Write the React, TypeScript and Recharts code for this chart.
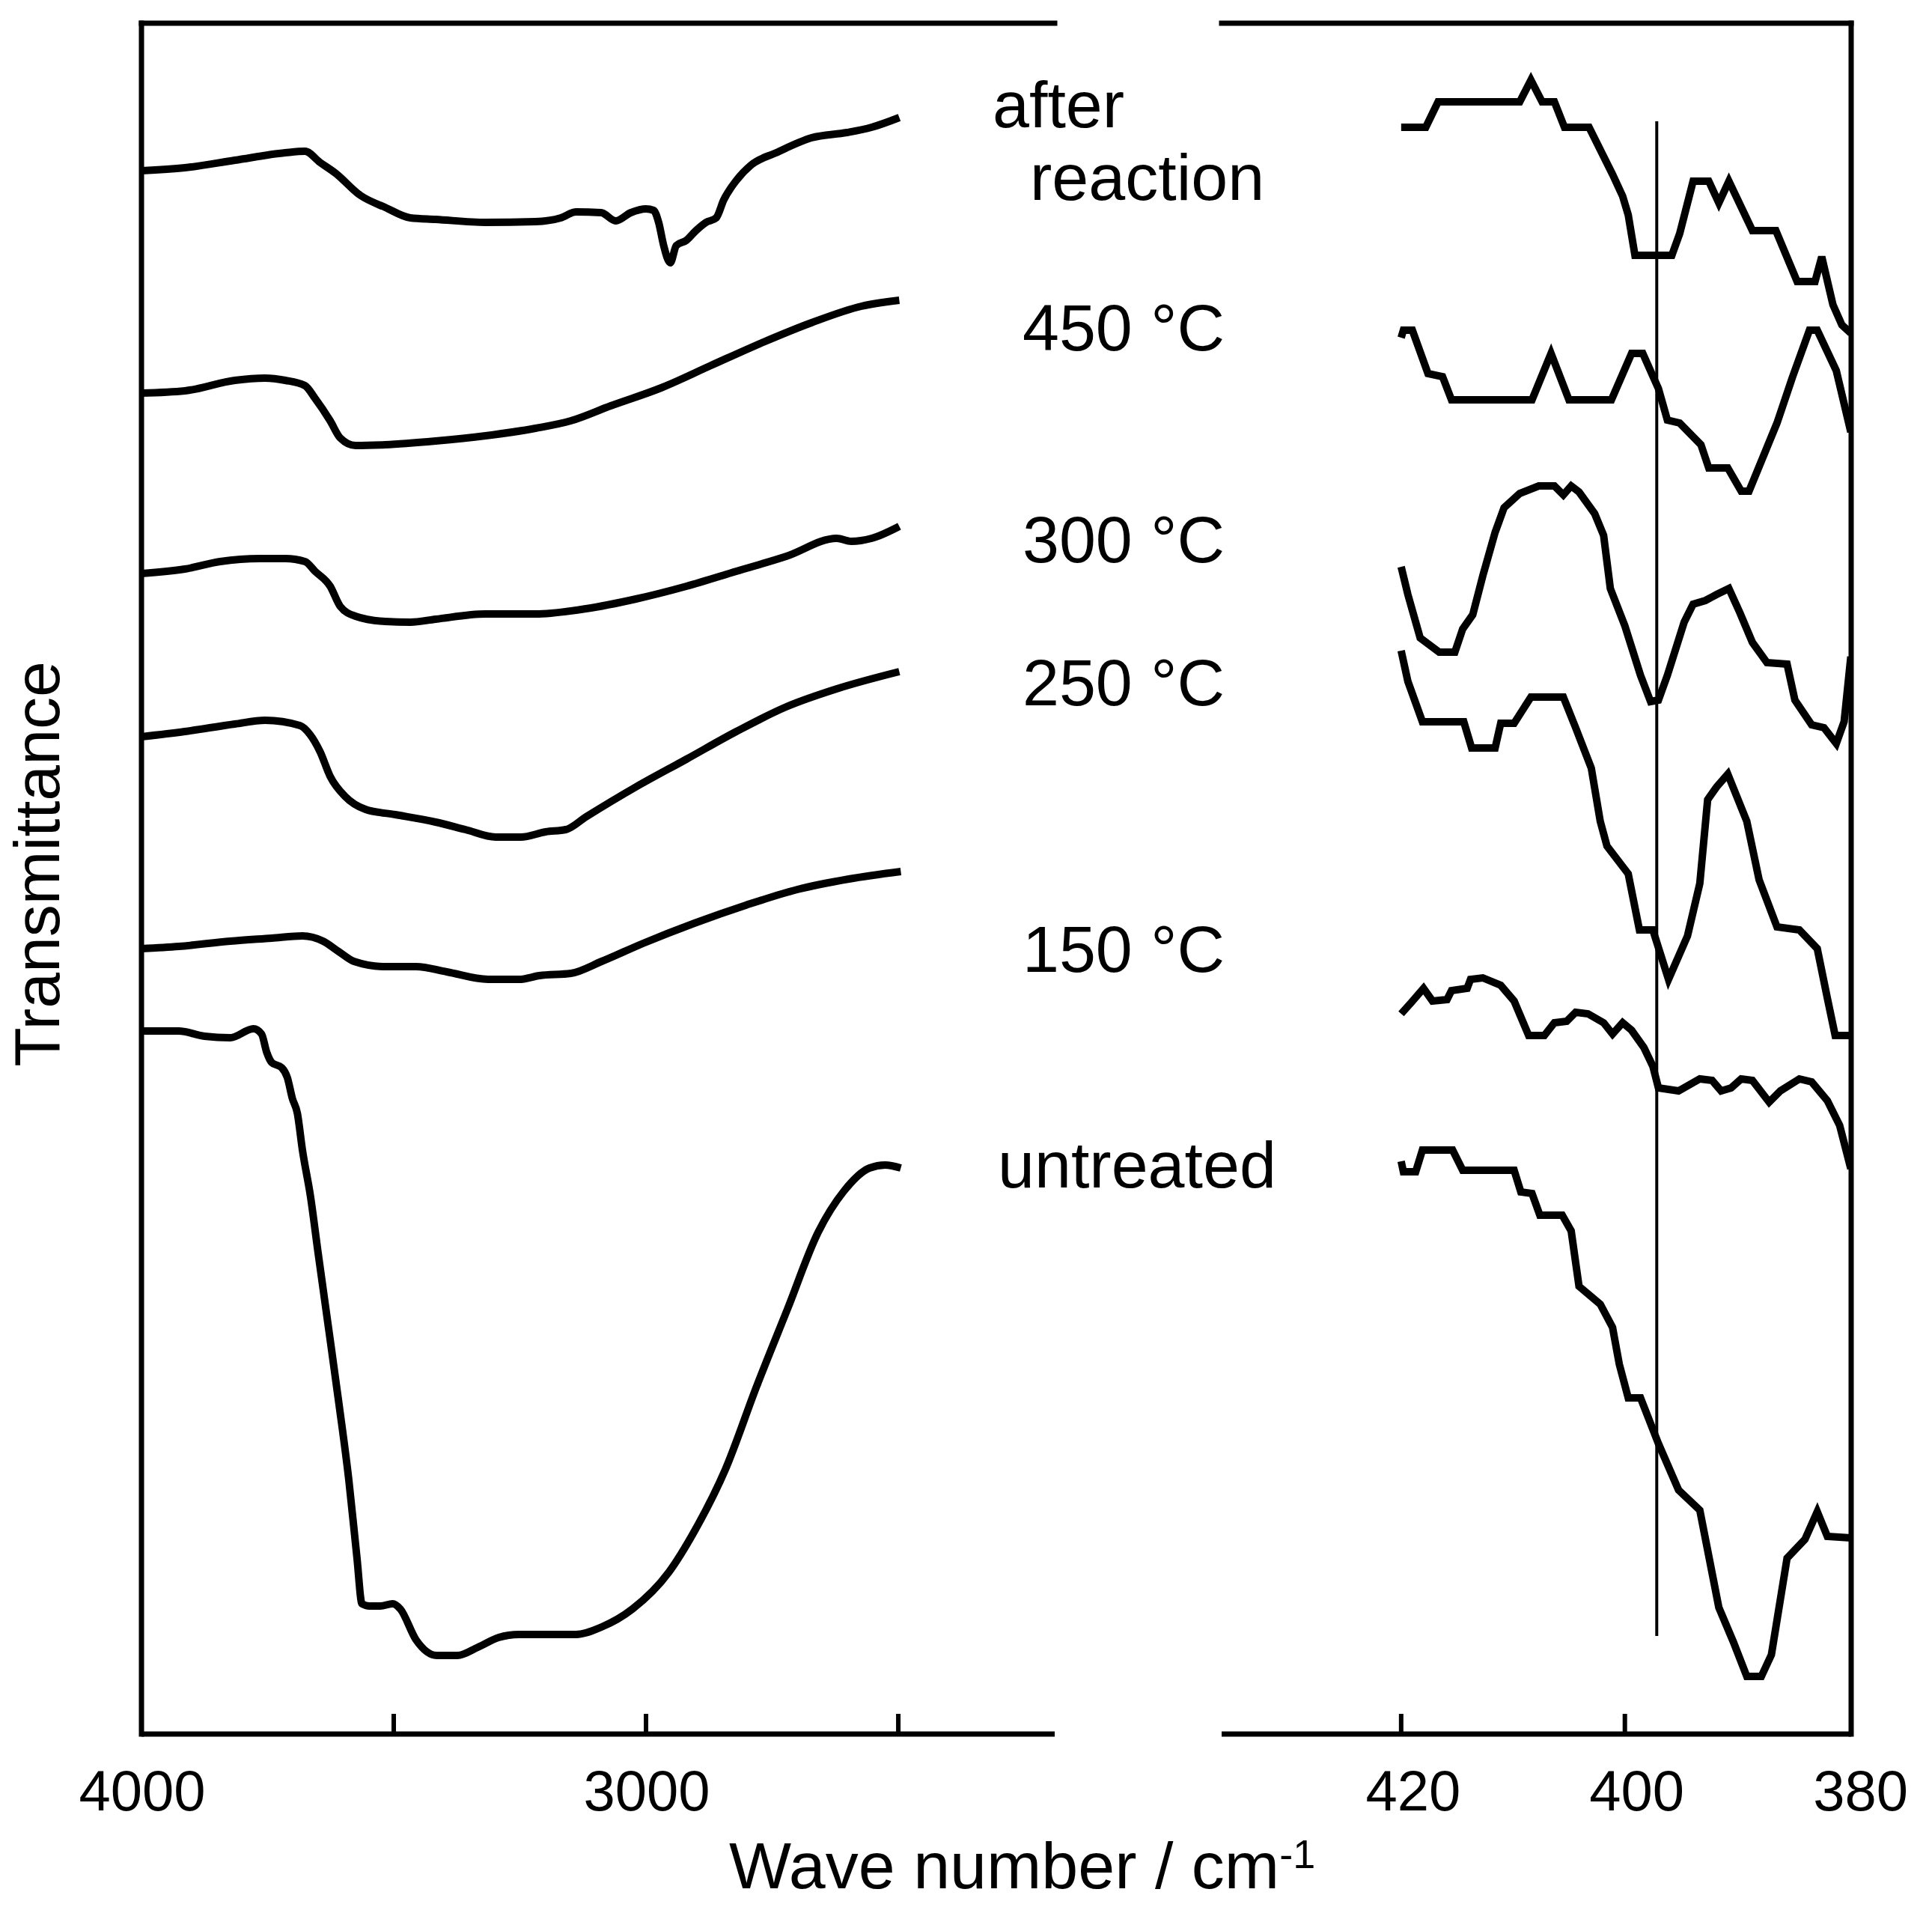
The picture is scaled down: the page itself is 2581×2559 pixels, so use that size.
import React from 'react';
import { LineChart, Line, XAxis, YAxis, ReferenceLine } from 'recharts';

const FONT = '"Liberation Sans", Arial, Helvetica, sans-serif';

// ---------- data: [wavenumber (cm-1), transmittance (a.u., offset)] ----------
const irAfterReaction: [number, number][] = [
  [4000, 208.8], [3914, 209.2], [3815, 210.2], [3715, 211.2], [3676, 211.4], [3646, 209.9], [3616, 208.5],
  [3566, 205.5], [3517, 203.9], [3467, 202.5], [3417, 202.3], [3318, 201.9], [3219, 202.0], [3169, 202.5],
  [3139, 203.3], [3089, 203.2], [3060, 202.1], [3030, 203.2], [3000, 203.7], [2985, 203.5], [2975, 201.9],
  [2965, 198.8], [2952, 196.5], [2940, 198.8], [2920, 199.5], [2901, 200.8], [2881, 201.9], [2861, 202.5],
  [2846, 204.9], [2821, 207.5], [2791, 209.6], [2742, 211.2], [2672, 213.2], [2602, 213.9], [2553, 214.6],
  [2498, 215.9],
];
const ir450: [number, number][] = [
  [4000, 179.1], [3914, 179.4], [3815, 180.8], [3755, 181.1], [3715, 180.8], [3676, 180.1], [3656, 178.4],
  [3626, 175.4], [3606, 173.1], [3576, 172.1], [3517, 172.2], [3417, 172.7], [3318, 173.4], [3219, 174.4],
  [3149, 175.4], [3070, 177.4], [2970, 179.8], [2871, 182.8], [2771, 185.8], [2672, 188.5], [2573, 190.7],
  [2498, 191.5],
];
const ir300: [number, number][] = [
  [4000, 155.0], [3914, 155.6], [3844, 156.6], [3765, 157.0], [3715, 157.0], [3676, 156.6], [3656, 155.3],
  [3626, 153.3], [3606, 150.6], [3576, 149.3], [3517, 148.6], [3467, 148.5], [3417, 148.9], [3318, 149.6],
  [3219, 149.6], [3119, 150.3], [3020, 151.6], [2920, 153.3], [2821, 155.3], [2722, 157.3], [2622, 159.7],
  [2593, 159.3], [2553, 159.7], [2498, 161.3],
];
const ir250: [number, number][] = [
  [4000, 133.2], [3914, 133.9], [3815, 134.9], [3755, 135.4], [3686, 134.7], [3666, 133.5], [3646, 131.2],
  [3626, 127.9], [3596, 125.2], [3556, 123.5], [3497, 122.8], [3417, 121.8], [3358, 120.8], [3298, 119.8],
  [3248, 119.8], [3199, 120.5], [3159, 120.8], [3119, 122.5], [3020, 126.5], [2920, 130.2], [2821, 133.9],
  [2722, 137.2], [2622, 139.6], [2498, 141.9],
];
const ir150: [number, number][] = [
  [4000, 104.9], [3926, 105.2], [3824, 105.9], [3742, 106.3], [3681, 106.6], [3640, 105.9], [3609, 104.5],
  [3579, 103.2], [3517, 102.5], [3456, 102.5], [3395, 101.8], [3313, 100.8], [3252, 100.8], [3211, 101.3],
  [3149, 101.6], [3088, 103.2], [3006, 105.6], [2904, 108.3], [2802, 110.7], [2700, 112.8], [2598, 114.2],
  [2495, 115.2],
];
const irUntreated: [number, number][] = [
  [4000, 93.9], [3926, 93.9], [3875, 93.2], [3824, 93.0], [3778, 94.2], [3762, 93.5], [3752, 91.1],
  [3742, 89.7], [3722, 89.0], [3711, 87.7], [3701, 84.9], [3691, 82.9], [3681, 78.0], [3665, 71.8],
  [3650, 64.3], [3630, 54.6], [3609, 44.3], [3589, 33.9], [3573, 23.6], [3563, 17.4], [3548, 17.1],
  [3527, 17.1], [3502, 17.4], [3487, 16.7], [3456, 12.6], [3415, 10.5], [3374, 10.5], [3333, 11.6],
  [3292, 12.9], [3252, 13.3], [3139, 13.3], [3088, 14.3], [3027, 16.7], [2955, 21.6], [2904, 27.1],
  [2843, 35.3], [2781, 46.4], [2720, 56.7], [2659, 67.0], [2608, 72.5], [2557, 75.6], [2526, 76.0],
  [2495, 75.6],
];

const farAfterReaction: [number, number][] = [
  [420, 214.6], [417.8, 214.6], [416.7, 218.0], [409.4, 218.0], [408.4, 220.9], [407.4, 218.0], [406.3, 218.0],
  [405.4, 214.6], [403.2, 214.6], [401.9, 210.7], [401.1, 208.3], [400.2, 205.4], [399.7, 202.9], [399.1, 197.5],
  [395.8, 197.5], [395.1, 200.4], [393.9, 207.4], [392.5, 207.4], [391.6, 204.5], [390.7, 207.4], [388.6, 200.8],
  [386.5, 200.8], [384.6, 194.0], [383.0, 194.0], [382.4, 197.3], [381.4, 190.9], [380.6, 188.2], [379.8, 187.1],
];
const far450: [number, number][] = [
  [420, 186.5], [419.8, 187.5], [419.0, 187.5], [417.6, 181.7], [416.3, 181.3], [415.5, 178.2], [408.3, 178.2],
  [406.6, 184.4], [405.0, 178.2], [401.2, 178.2], [399.4, 184.4], [398.4, 184.4], [397.0, 179.7], [396.2, 175.5],
  [395.1, 175.1], [393.2, 172.2], [392.5, 169.1], [390.8, 169.1], [389.6, 166.0], [388.9, 166.0], [386.4, 175.1],
  [385.0, 181.3], [383.5, 187.5], [382.8, 187.5], [381.1, 182.1], [379.8, 173.9],
];
const far300: [number, number][] = [
  [420, 155.9], [419.4, 152.2], [418.3, 146.4], [416.6, 144.5], [415.2, 144.5], [414.5, 147.6], [413.6, 149.5],
  [412.7, 154.7], [411.6, 160.5], [410.8, 163.8], [409.4, 165.7], [407.7, 166.7], [406.3, 166.7], [405.5, 165.5],
  [404.8, 166.7], [404.1, 165.9], [402.7, 163.0], [401.9, 160.1], [401.3, 153.0], [400.0, 148.0], [398.6, 141.4],
  [397.7, 137.9], [397.0, 138.1], [396.2, 141.4], [394.7, 148.5], [393.9, 150.9], [392.8, 151.4], [391.8, 152.2],
  [390.7, 153.0], [389.7, 149.7], [388.6, 145.8], [387.3, 143.1], [385.5, 142.9], [384.8, 138.1], [383.3, 134.8],
  [382.2, 134.4], [381.1, 132.3], [380.4, 135.2], [379.8, 143.9],
];
const far250: [number, number][] = [
  [420, 144.7], [419.4, 140.6], [418.1, 135.2], [414.4, 135.2], [413.7, 131.7], [411.6, 131.7], [411.1, 135.0],
  [409.9, 135.0], [408.4, 138.5], [405.5, 138.5], [404.4, 134.4], [403.0, 129.0], [402.2, 121.9], [401.6, 118.6],
  [399.7, 114.9], [398.7, 107.4], [397.5, 107.4], [396.1, 100.8], [394.4, 106.6], [393.3, 113.6], [392.6, 124.8],
  [391.8, 126.5], [390.8, 128.2], [389.1, 121.9], [388.0, 114.1], [386.4, 107.8], [384.4, 107.4], [382.8, 104.9],
  [381.9, 98.3], [381.2, 93.3], [379.8, 93.3],
];
const far150: [number, number][] = [
  [420, 96.2], [419.1, 97.7], [418.0, 99.6], [417.2, 97.9], [415.9, 98.1], [415.5, 99.3], [414.1, 99.6],
  [413.8, 100.8], [412.7, 101.0], [411.1, 100.0], [409.9, 97.9], [408.6, 93.3], [407.2, 93.3], [406.3, 95.0],
  [405.2, 95.2], [404.4, 96.4], [403.3, 96.2], [401.9, 95.0], [401.1, 93.5], [400.2, 95.0], [399.4, 94.0],
  [398.3, 91.7], [397.5, 89.2], [397.0, 86.3], [395.2, 85.9], [393.3, 87.5], [392.2, 87.3], [391.4, 85.9],
  [390.5, 86.3], [389.6, 87.5], [388.6, 87.3], [387.1, 84.4], [386.1, 85.9], [384.4, 87.5], [383.3, 87.1],
  [381.9, 84.6], [380.8, 81.3], [379.8, 75.5],
];
const farUntreated: [number, number][] = [
  [420, 76.5], [419.8, 75.1], [418.7, 75.1], [418.1, 78.0], [415.4, 78.0], [414.5, 75.3], [409.9, 75.3],
  [409.3, 72.4], [408.3, 72.2], [407.6, 69.3], [405.6, 69.3], [404.8, 67.2], [404.1, 59.8], [402.2, 57.4],
  [401.1, 54.3], [400.5, 49.4], [399.7, 44.9], [398.6, 44.9], [397.0, 38.8], [395.2, 32.6], [393.3, 29.9],
  [391.6, 16.9], [390.3, 12.3], [389.1, 7.7], [387.8, 7.7], [386.9, 10.6], [385.5, 23.5], [383.9, 26.0],
  [382.8, 29.7], [381.9, 26.4], [379.8, 26.2],
];

const seriesLabels = ['after reaction', '450 °C', '300 °C', '250 °C', '150 °C', 'untreated'];
const irSeries = [irAfterReaction, ir450, ir300, ir250, ir150, irUntreated];
const farSeries = [farAfterReaction, far450, far300, far250, far150, farUntreated];

const irTicks = [4000, 3500, 3000, 2500];
const irTickLabels = [4000, 3000];
const farTicks = [420, 400, 380];
const farTickLabels = [420, 400, 380];

const irDomain: [number, number] = [2190, 4000];
const farDomain: [number, number] = [379.77, 436.05];
const yDomain: [number, number] = [0, 228.5];
const markerWavenumber = 397.15;
const markerRange: [number, number] = [13.1, 215.4];

const xTitle = 'Wave number / cm';
const xTitleSup = '-1';
const yTitle = 'Transmittance';

const toPts = (arr: [number, number][]) => arr.map(([x, v]) => ({ x, v }));

const AxisTick = (props: any) => {
  const { x, y, payload, labels, edge, dx } = props;
  const val = payload.value;
  return (
    <g>
      {val !== edge && <line x1={x} y1={y} x2={x} y2={y - 27} stroke="#000" strokeWidth={6} />}
      {labels.includes(val) && (
        <text x={x + dx} y={y + 102} textAnchor="middle" fontSize={76} fontFamily={FONT} fill="#000">
          {val}
        </text>
      )}
    </g>
  );
};

export default function App() {
  return (
    <div style={{ position: 'absolute', left: 0, top: 0, width: 2581, height: 2559, background: '#fff' }}>
      <div style={{ position: 'absolute', left: 0, top: 0 }}>
        <LineChart width={1500} height={2559} margin={{ top: 31, right: 91, bottom: 43, left: 189 }}>
          <XAxis
            type="number"
            dataKey="x"
            domain={irDomain}
            reversed
            allowDataOverflow
            ticks={irTicks}
            interval={0}
            height={200}
            tickSize={0}
            tickMargin={0}
            tickLine={false}
            axisLine={{ stroke: '#000', strokeWidth: 7 }}
            tick={(p: any) => <AxisTick {...p} labels={irTickLabels} edge={4000} dx={1} />}
          />
          <YAxis type="number" domain={yDomain} allowDataOverflow hide />
          <ReferenceLine x={4000} stroke="#000" strokeWidth={7} strokeLinecap="square" />
          <ReferenceLine y={yDomain[1]} stroke="#000" strokeWidth={7} strokeLinecap="square" />
          {irSeries.map((s, i) => (
            <Line
              key={'ir' + i}
              data={toPts(s)}
              dataKey="v"
              type="monotoneX"
              stroke="#000"
              strokeWidth={10}
              strokeLinejoin="round"
              dot={false}
              activeDot={false}
              isAnimationActive={false}
            />
          ))}
        </LineChart>
      </div>
      <div style={{ position: 'absolute', left: 1500, top: 0 }}>
        <LineChart width={1081} height={2559} margin={{ top: 31, right: 108, bottom: 43, left: 132 }}>
          <XAxis
            type="number"
            dataKey="x"
            domain={farDomain}
            reversed
            allowDataOverflow
            ticks={farTicks}
            interval={0}
            height={200}
            tickSize={0}
            tickMargin={0}
            tickLine={false}
            axisLine={{ stroke: '#000', strokeWidth: 7 }}
            tick={(p: any) => <AxisTick {...p} labels={farTickLabels} edge={380} dx={16} />}
          />
          <YAxis type="number" domain={yDomain} allowDataOverflow hide />
          <ReferenceLine x={farDomain[0]} stroke="#000" strokeWidth={7} strokeLinecap="square" />
          <ReferenceLine y={yDomain[1]} stroke="#000" strokeWidth={7} strokeLinecap="square" />
          <ReferenceLine
            segment={[
              { x: markerWavenumber, y: markerRange[0] },
              { x: markerWavenumber, y: markerRange[1] },
            ]}
            stroke="#000"
            strokeWidth={4}
          />
          {farSeries.map((s, i) => (
            <Line
              key={'far' + i}
              data={toPts(s)}
              dataKey="v"
              type="linear"
              stroke="#000"
              strokeWidth={10}
              strokeLinejoin="miter"
              dot={false}
              activeDot={false}
              isAnimationActive={false}
            />
          ))}
        </LineChart>
      </div>
      <svg
        width={2581}
        height={2559}
        style={{ position: 'absolute', left: 0, top: 0, pointerEvents: 'none' }}
        fontFamily={FONT}
        fill="#000"
      >
        <text x={1326} y={170} fontSize={88}>{seriesLabels[0].split(' ')[0]}</text>
        <text x={1376} y={267} fontSize={88}>{seriesLabels[0].split(' ')[1]}</text>
        <text x={1636} y={468} fontSize={88} textAnchor="end">{seriesLabels[1]}</text>
        <text x={1636} y={751} fontSize={88} textAnchor="end">{seriesLabels[2]}</text>
        <text x={1636} y={942} fontSize={88} textAnchor="end">{seriesLabels[3]}</text>
        <text x={1636} y={1298} fontSize={88} textAnchor="end">{seriesLabels[4]}</text>
        <text x={1333} y={1586} fontSize={88}>{seriesLabels[5]}</text>
        <text x={974} y={2522} fontSize={88}>
          {xTitle}
          <tspan fontSize={54} dy={-27}>{xTitleSup}</tspan>
        </text>
        <text transform="translate(79,1154) rotate(-90)" textAnchor="middle" fontSize={86}>
          {yTitle}
        </text>
      </svg>
    </div>
  );
}
